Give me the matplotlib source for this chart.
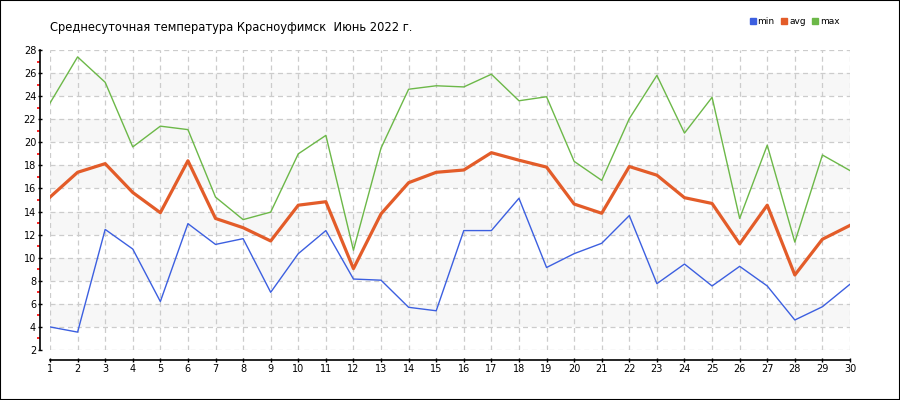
import numpy as np
import matplotlib
matplotlib.use("Agg")
import matplotlib.pyplot as plt
from matplotlib.lines import Line2D
from matplotlib.patches import Rectangle

days = list(range(1, 31))
t_min = [4.0, 3.55, 12.45, 10.75, 6.2, 12.95, 11.15, 11.65, 7.0, 10.35,
         12.35, 8.15, 8.05, 5.7, 5.4, 12.35, 12.35, 15.15, 9.15, 10.35,
         11.25, 13.65, 7.75, 9.45, 7.55, 9.25, 7.55, 4.6, 5.75, 7.7]
t_avg = [15.25, 17.4, 18.15, 15.65, 13.9, 18.4, 13.4, 12.6, 11.45, 14.55,
         14.85, 9.05, 13.8, 16.5, 17.4, 17.6, 19.1, 18.45, 17.85, 14.65,
         13.85, 17.9, 17.15, 15.2, 14.7, 11.2, 14.55, 8.5, 11.6, 12.8]
t_max = [23.4, 27.4, 25.2, 19.6, 21.4, 21.1, 15.25, 13.3, 13.95, 19.0,
         20.6, 10.65, 19.5, 24.6, 24.9, 24.8, 25.9, 23.6, 23.95, 18.35,
         16.7, 22.05, 25.8, 20.8, 23.9, 13.4, 19.75, 11.35, 18.9, 17.55]
title = "Среднесуточная температура Красноуфимск  Июнь 2022 г."

c_min = "#3c5fe0"
c_avg = "#e35c29"
c_max = "#6cb848"

fig = plt.figure(figsize=(9, 4), dpi=100)
ax = fig.add_axes([50 / 900, 50 / 400, 800 / 900, 300 / 400])

# alternating bands
for lo in range(4, 28, 4):
    ax.axhspan(lo, lo + 2, color="#f7f7f7", zorder=0, lw=0)

ax.plot(days, t_min, color=c_min, lw=1.0, zorder=3)
ax.plot(days, t_avg, color=c_avg, lw=2.3, zorder=4)
ax.plot(days, t_max, color=c_max, lw=1.0, zorder=3)

ax.set_xlim(1, 30)
ax.set_ylim(2, 28)
ax.set_xticks(days)
ax.set_yticks(range(2, 29, 2))
ax.set_yticks(range(3, 28, 2), minor=True)
ax.grid(True, which="major", color="#cccccc", ls=(0, (4, 3)), lw=0.9, zorder=1)

for s in ["top", "right"]:
    ax.spines[s].set_visible(False)
ax.spines["left"].set_position(("outward", 7.2))
ax.spines["bottom"].set_position(("outward", 7.2))
ax.spines["left"].set_linewidth(1.2)
ax.spines["bottom"].set_linewidth(1.2)

ax.tick_params(axis="y", which="major", direction="inout", length=3.5, width=1,
               labelsize=7, pad=1)
ax.tick_params(axis="y", which="minor", direction="out", length=2.5, width=1.2,
               color="red")
ax.tick_params(axis="x", which="major", direction="inout", length=3.5, width=1,
               labelsize=7, pad=1)

fig.text(50 / 900, 1 - 28 / 400, title, fontsize=8.3, va="center", ha="left")

handles = [Line2D([], [], ls="", marker="s", ms=4, color=c) for c in (c_min, c_avg, c_max)]
fig.legend(handles, ["min", "avg", "max"], loc="center",
           bbox_to_anchor=(795 / 900, 1 - 22 / 400), ncol=3, frameon=False,
           fontsize=6.5, handlelength=0.5, handletextpad=0.3, columnspacing=0.8)

fig.patches.append(Rectangle((0, 0), 1, 1, transform=fig.transFigure,
                             fill=False, edgecolor="black", lw=1.5))

fig.savefig("out.png", dpi=100)
